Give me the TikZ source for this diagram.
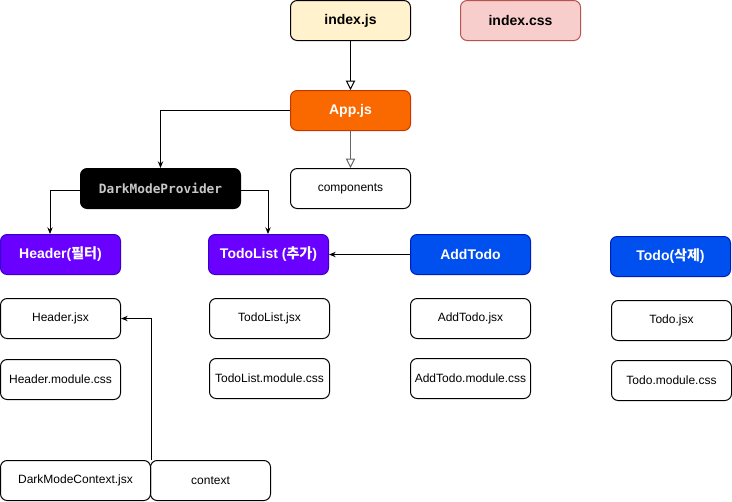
\documentclass[tikz,border=0pt]{standalone}
\usepackage{fontspec}
\setmainfont{Liberation Sans}
\setmonofont{DejaVu Sans Mono}
\newfontfamily\kr{Noto Sans CJK KR}
\usetikzlibrary{arrows.meta}
\definecolor{yfill}{HTML}{FFF2CC}
\definecolor{rfill}{HTML}{F8CECC}
\definecolor{rline}{HTML}{B85450}
\definecolor{ofill}{HTML}{FA6800}
\definecolor{oline}{HTML}{C73500}
\definecolor{pfill}{HTML}{6A00FF}
\definecolor{pline}{HTML}{3700CC}
\definecolor{bfill}{HTML}{0050EF}
\definecolor{bline}{HTML}{001DBC}
\tikzset{
  x=0.75pt, y=-0.75pt,
  box/.style={draw, rounded corners=5pt, line width=0.75pt, minimum width=90pt, minimum height=30pt, inner sep=0pt, font=\fontsize{9}{11}\selectfont, anchor=north west},
  hbox/.style={box, font=\fontsize{10.5}{12}\selectfont\bfseries},
  conn/.style={line width=0.75pt, -{Stealth[length=5pt,width=4pt]}},
  oconn/.style={line width=0.75pt, -{Triangle[open,length=7pt,width=7pt]}},
}
\begin{document}
\begin{tikzpicture}
\useasboundingbox (0,0) rectangle (732,501);
\node[hbox, fill=yfill] (idxjs) at (290,0) {index.js};
\node[hbox, fill=rfill, draw=rline] (idxcss) at (460,0) {index.css};
\node[hbox, fill=ofill, draw=oline, text=white] (app) at (290,90) {App.js};
\node[box, fill=white] (comp) at (290,168) {components};
\node[box, fill=black, text=black!22, minimum width=120pt, font=\ttfamily\bfseries\fontsize{9.6}{11}\selectfont] (dmp) at (80,168) {DarkModeProvider};
\node[hbox, fill=pfill, draw=pline, text=white] (header) at (0,234) {Header({\kr 필터})};
\node[hbox, fill=pfill, draw=pline, text=white] (todolist) at (208,234) {TodoList ({\kr 추가})};
\node[hbox, fill=bfill, draw=bline, text=white] (addtodo) at (410,234) {AddTodo};
\node[hbox, fill=bfill, draw=bline, text=white] (todo) at (610,236) {Todo({\kr 삭제})};
\node[box] (hjsx) at (0,298) {Header.jsx};
\node[box] (hcss) at (0,359) {Header.module.css};
\node[box] (tljsx) at (209,298) {TodoList.jsx};
\node[box] (tlcss) at (209,358) {TodoList.module.css};
\node[box] (atjsx) at (410,298) {AddTodo.jsx};
\node[box] (atcss) at (410,358) {AddTodo.module.css};
\node[box] (tjsx) at (611,300) {Todo.jsx};
\node[box] (tcss) at (611,360) {Todo.module.css};
\node[box, minimum width=112.5pt] (dmc) at (0,460) {DarkModeContext.jsx};
\node[box] (ctx) at (150,460) {context};
\draw[oconn] (idxjs.south) -- (app.north);
\draw[oconn, draw=black!60] (app.south) -- (comp.north);
\draw[conn] (app.west) -| (dmp.north);
\draw[conn] ([yshift=-1.5pt]dmp.west) -| (header.north -| 50,0);
\draw[conn] ([yshift=-1.5pt]dmp.east) -| (todolist.north -| 268,0);
\draw[conn] (addtodo.west) -- (todolist.east);
\draw[conn] (dmc.north east) |- (hjsx.east);
\end{tikzpicture}
\end{document}
